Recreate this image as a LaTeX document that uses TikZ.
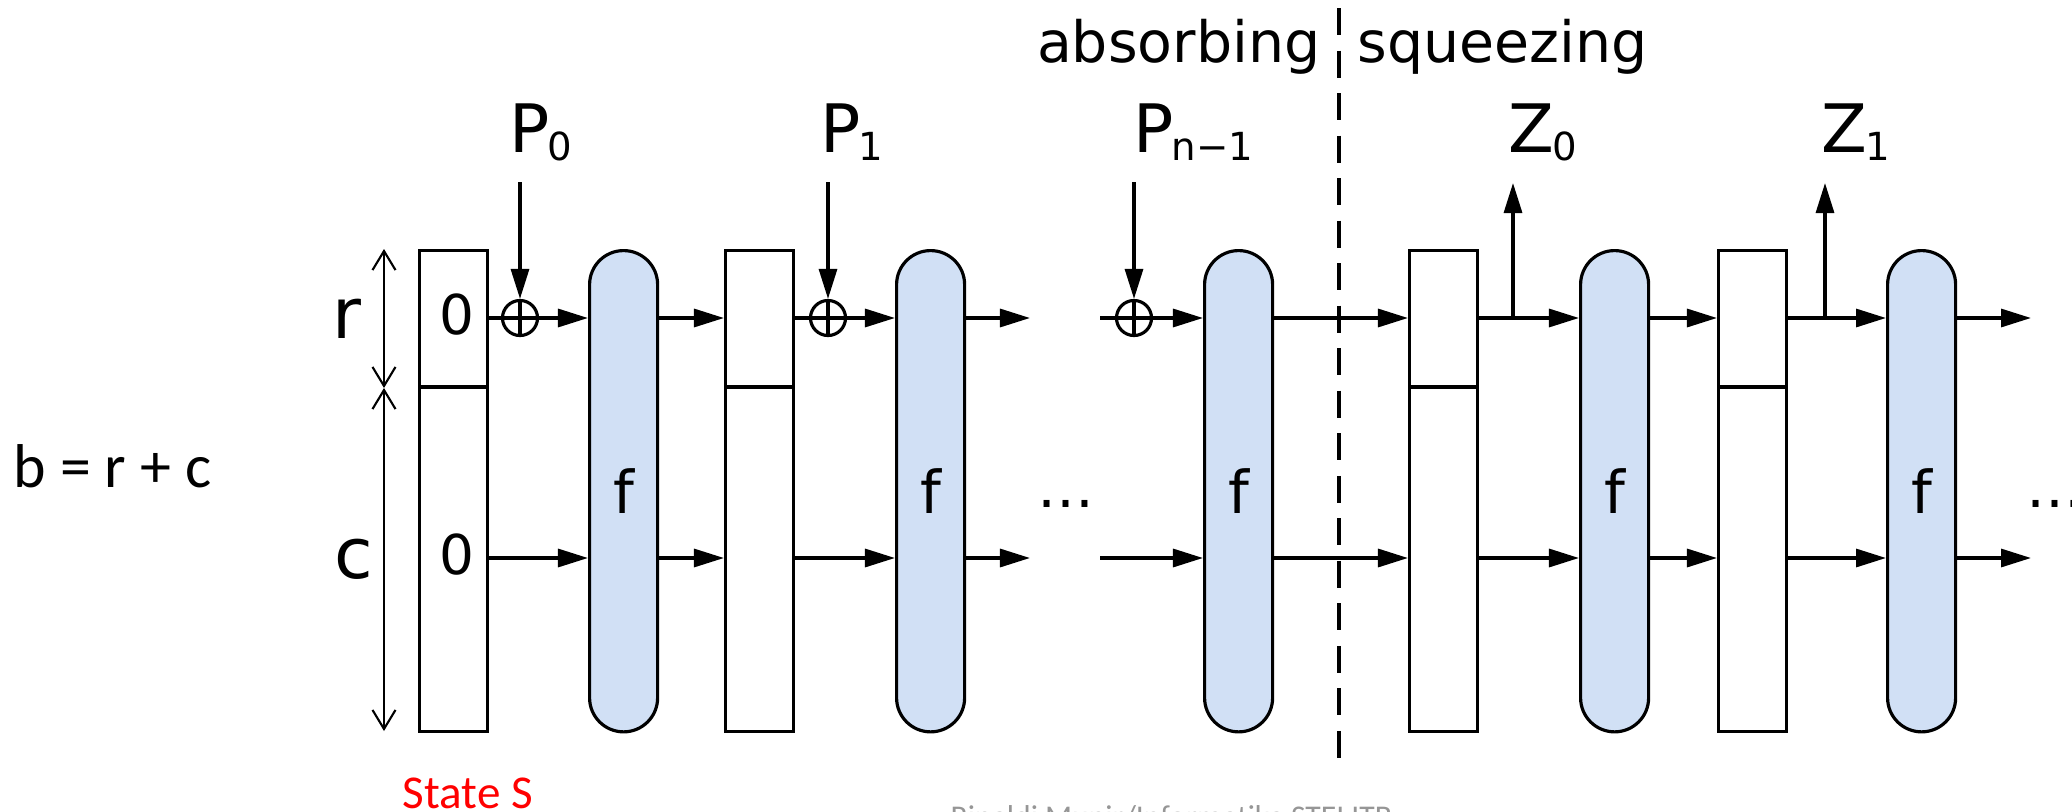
\documentclass[tikz,border=0pt]{standalone}
\usepackage{fontspec}
\setmainfont{DejaVu Sans}
\newfontfamily\calibrifont{Carlito}
\usetikzlibrary{arrows.meta}
\definecolor{fblue}{RGB}{209,224,245}
\definecolor{wmgray}{RGB}{150,150,150}
\tikzset{
  lw/.style={line width=0.9pt},
  statebox/.style={draw, lw, fill=white, minimum width=0.68cm, minimum height=4.81cm, inner sep=0pt, anchor=north west},
  fbox/.style={draw, lw, fill=fblue, minimum width=0.68cm, minimum height=4.81cm, rounded corners=0.34cm, inner sep=0pt, anchor=north west, font=\fontsize{16.8}{17}\selectfont},
  flow/.style={lw, -{Triangle[length=3mm,width=1.8mm]}},
  plain/.style={lw},
  dimarr/.style={line width=0.6pt, {Straight Barb[length=1.9mm,width=2.3mm]}-{Straight Barb[length=1.9mm,width=2.3mm]}},
  xorn/.style={circle, draw, lw, minimum size=0.35cm, inner sep=0pt,
    path picture={\draw[lw] (path picture bounding box.north) -- (path picture bounding box.south)
      (path picture bounding box.west) -- (path picture bounding box.east);}},
  biglab/.style={font=\fontsize{19}{19}\selectfont, inner sep=0pt, anchor=base west},
  rclab/.style={font=\fontsize{20}{20}\selectfont, inner sep=0pt, anchor=base west},
  zero/.style={font=\fontsize{15.6}{16}\selectfont, inner sep=0pt},
  phase/.style={font=\fontsize{16.2}{16}\selectfont, inner sep=0pt},
  dotsn/.style={font=\fontsize{16.2}{16}\selectfont, inner sep=0pt, anchor=base},
}
\newcommand{\subsc}[1]{\kern-0.6pt\raisebox{-2.3pt}{\fontsize{11}{11}\selectfont #1}}
\begin{document}
\begin{tikzpicture}[x=0.01cm, y=-0.01cm]
\useasboundingbox (0,0) rectangle (2072,812);
\clip (0,0) rectangle (2072,812);

% rows
\coordinate (rowT) at (0,318);
\coordinate (rowB) at (0,558);
\coordinate (divY) at (0,387);

% dashed separator
\coordinate (sepT) at (1339,8);
\coordinate (sepB) at (1339,765);
\draw[lw, dash pattern=on 0.27cm off 0.155cm] (sepT) -- (sepB);

% boxes
\node[statebox] (s1) at (418,249) {};
\node[fbox] (f1) at (588,249) {f};
\node[statebox] (s2) at (724,249) {};
\node[fbox] (f2) at (895,249) {f};
\node[fbox] (f3) at (1203,249) {f};
\node[statebox] (s3) at (1408,249) {};
\node[fbox] (f4) at (1579,249) {f};
\node[statebox] (s4) at (1717,249) {};
\node[fbox] (f5) at (1886,249) {f};

\foreach \s in {s1,s2,s3,s4}{
  \draw[plain] (\s.west |- divY) -- (\s.east |- divY);
}

% zeros
\node[zero] (z0t) at (457,315) {0};
\node[zero] (z0b) at (457,555) {0};

% xor nodes
\node[xorn] (x1) at (520,318) {};
\node[xorn] (x2) at (828,318) {};
\node[xorn] (x3) at (1134,318) {};

% input arrows
\coordinate (p0s) at (520,182);
\coordinate (p1s) at (828,182);
\coordinate (p2s) at (1134,182);
\draw[flow] (p0s) -- (x1.north);
\draw[flow] (p1s) -- (x2.north);
\draw[flow] (p2s) -- (x3.north);

% stage 1
\draw[plain] (s1.east |- rowT) -- (x1.west);
\draw[flow] (x1.east) -- (f1.west |- rowT);
\draw[flow] (s1.east |- rowB) -- (f1.west |- rowB);
\draw[flow] (f1.east |- rowT) -- (s2.west |- rowT);
\draw[flow] (f1.east |- rowB) -- (s2.west |- rowB);
% stage 2
\draw[plain] (s2.east |- rowT) -- (x2.west);
\draw[flow] (x2.east) -- (f2.west |- rowT);
\draw[flow] (s2.east |- rowB) -- (f2.west |- rowB);
\coordinate (e2T) at (1030,318);
\coordinate (e2B) at (1030,558);
\draw[flow] (f2.east |- rowT) -- (e2T);
\draw[flow] (f2.east |- rowB) -- (e2B);
% stage n-1
\coordinate (a3T) at (1100,318);
\coordinate (a3B) at (1100,558);
\draw[plain] (a3T) -- (x3.west);
\draw[flow] (x3.east) -- (f3.west |- rowT);
\draw[flow] (a3B) -- (f3.west |- rowB);
\draw[flow] (f3.east |- rowT) -- (s3.west |- rowT);
\draw[flow] (f3.east |- rowB) -- (s3.west |- rowB);
% squeezing
\draw[flow] (s3.east |- rowT) -- (f4.west |- rowT);
\draw[flow] (s3.east |- rowB) -- (f4.west |- rowB);
\coordinate (zb0) at (1513,318);
\coordinate (zt0) at (1513,183);
\draw[flow] (zb0) -- (zt0);
\draw[flow] (f4.east |- rowT) -- (s4.west |- rowT);
\draw[flow] (f4.east |- rowB) -- (s4.west |- rowB);
\draw[flow] (s4.east |- rowT) -- (f5.west |- rowT);
\draw[flow] (s4.east |- rowB) -- (f5.west |- rowB);
\coordinate (zb1) at (1825,318);
\coordinate (zt1) at (1825,183);
\draw[flow] (zb1) -- (zt1);
\coordinate (e5T) at (2031,318);
\coordinate (e5B) at (2031,558);
\draw[flow] (f5.east |- rowT) -- (e5T);
\draw[flow] (f5.east |- rowB) -- (e5B);

% dots
\node[dotsn] (dm) at (1066,507) {…};
\node[dotsn] (dr) at (2055,507) {…};

% labels
\node[biglab] (lp0) at (509,152) {P\subsc{0}};
\node[biglab] (lp1) at (820,152) {P\subsc{1}};
\node[biglab] (lp2) at (1133,152) {P\subsc{n−1}};
\node[biglab] (lz0) at (1508,152) {Z\subsc{0}};
\node[biglab] (lz1) at (1821,152) {Z\subsc{1}};

\node[phase, anchor=base east] (abs) at (1321,62) {absorbing};
\node[phase, anchor=base west] (sqz) at (1357,62) {squeezing};

% dimension arrows
\coordinate (dT) at (384,249);
\coordinate (dM) at (384,388);
\coordinate (dB) at (384,731);
\draw[dimarr] (dT) -- (dM);
\draw[dimarr] (dM) -- (dB);
\node[rclab] (lr) at (332,338) {r};
\node[rclab] (lc) at (334,578) {c};

% side texts
\node[font=\calibrifont\fontsize{17.6}{18}\selectfont, inner sep=0pt, anchor=base west] (brc) at (13,487) {b = r + c};
\node[font=\calibrifont\fontsize{13.4}{14}\selectfont, text=red, inner sep=0pt, anchor=base] (st) at (468,808) {State S};
\node[font=\calibrifont\fontsize{9}{9}\selectfont, text=wmgray, inner sep=0pt, anchor=base west] (wm) at (950,827) {Rinaldi Munir/Informatika STEI ITB};
\end{tikzpicture}
\end{document}
